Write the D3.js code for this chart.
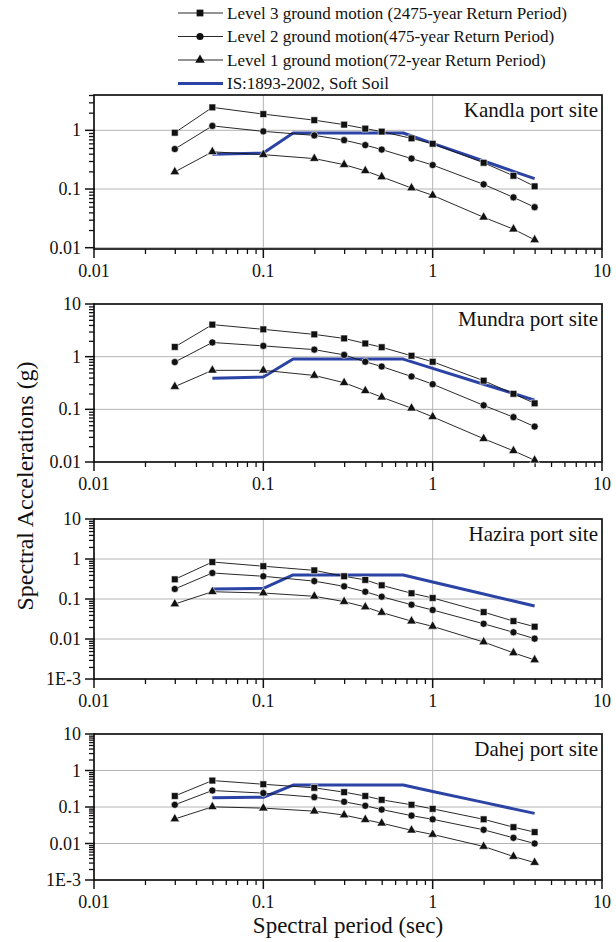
<!DOCTYPE html>
<html>
<head>
<meta charset="utf-8">
<script src="https://cdn.jsdelivr.net/npm/d3@7/dist/d3.min.js"></script>
<style>
  html, body { margin: 0; padding: 0; background: #fff; }
  svg { display: block; }
</style>
</head>
<body>
<svg id="chart" width="616" height="942"></svg>
<script>
// Spectral periods (sec) at which the hazard spectra are computed
const periods = [0.03, 0.05, 0.1, 0.2, 0.3, 0.4, 0.5, 0.75, 1, 2, 3, 4];
// Break points of the IS:1893-2002 soft soil design spectrum
const codePeriods = [0.05, 0.1, 0.15, 0.67, 1, 2, 3, 4];

// Kandla port site
const kandlaLevel3 = [0.91, 2.46, 1.89, 1.49, 1.25, 1.07, 0.95, 0.73, 0.59, 0.28, 0.168, 0.111];
const kandlaLevel2 = [0.48, 1.19, 0.96, 0.82, 0.68, 0.56, 0.47, 0.33, 0.256, 0.12, 0.072, 0.049];
const kandlaLevel1 = [0.196, 0.43, 0.385, 0.33, 0.26, 0.204, 0.161, 0.104, 0.078, 0.033, 0.0207, 0.0136];
const kandlaCode   = [0.39, 0.41, 0.9, 0.9, 0.6, 0.3, 0.2, 0.15];

// Mundra port site
const mundraLevel3 = [1.53, 4.06, 3.3, 2.65, 2.22, 1.78, 1.51, 1.04, 0.8, 0.35, 0.197, 0.13];
const mundraLevel2 = [0.79, 1.86, 1.6, 1.36, 1.08, 0.8, 0.65, 0.42, 0.3, 0.119, 0.071, 0.047];
const mundraLevel1 = [0.27, 0.55, 0.55, 0.44, 0.32, 0.225, 0.17, 0.105, 0.072, 0.0277, 0.0163, 0.0108];
const mundraCode   = [0.39, 0.41, 0.9, 0.9, 0.6, 0.3, 0.2, 0.15];

// Hazira port site
const haziraLevel3 = [0.31, 0.84, 0.66, 0.52, 0.37, 0.3, 0.22, 0.139, 0.106, 0.047, 0.028, 0.0203];
const haziraLevel2 = [0.178, 0.447, 0.37, 0.28, 0.207, 0.152, 0.114, 0.072, 0.053, 0.024, 0.0147, 0.0102];
const haziraLevel1 = [0.075, 0.152, 0.141, 0.117, 0.086, 0.063, 0.046, 0.028, 0.0207, 0.0084, 0.0045, 0.003];
const haziraCode   = [0.178, 0.185, 0.4, 0.4, 0.267, 0.134, 0.089, 0.067];

// Dahej port site
const dahejLevel3 = [0.2, 0.53, 0.42, 0.335, 0.255, 0.2, 0.157, 0.115, 0.089, 0.046, 0.028, 0.0205];
const dahejLevel2 = [0.115, 0.283, 0.24, 0.186, 0.139, 0.108, 0.085, 0.058, 0.046, 0.0237, 0.0143, 0.01];
const dahejLevel1 = [0.047, 0.101, 0.093, 0.077, 0.06, 0.045, 0.036, 0.023, 0.0177, 0.0083, 0.0044, 0.003];
const dahejCode   = [0.178, 0.185, 0.4, 0.4, 0.267, 0.134, 0.089, 0.067];

// Tick values and their printed labels
const xTickValues = [0.01, 0.1, 1, 10];
const xTickLabels = ["0.01", "0.1", "1", "10"];
const yTickValues = [0.001, 0.01, 0.1, 1, 10];
const yTickLabels = ["1E-3", "0.01", "0.1", "1", "10"];

const siteNames = ["Kandla port site", "Mundra port site", "Hazira port site", "Dahej port site"];
const legendLabels = [
  "Level 3 ground motion (2475-year Return Period)",
  "Level 2 ground motion(475-year Return Period)",
  "Level 1 ground motion(72-year Return Period)",
  "IS:1893-2002, Soft Soil"
];

const panels = [
  { name: siteNames[0], l3: kandlaLevel3, l2: kandlaLevel2, l1: kandlaLevel1, code: kandlaCode,
    yMin: 0.0095, yMax: 4, top: 95, bottom: 249 },
  { name: siteNames[1], l3: mundraLevel3, l2: mundraLevel2, l1: mundraLevel1, code: mundraCode,
    yMin: 0.01, yMax: 10, top: 304, bottom: 462 },
  { name: siteNames[2], l3: haziraLevel3, l2: haziraLevel2, l1: haziraLevel1, code: haziraCode,
    yMin: 0.001, yMax: 10, top: 519, bottom: 679 },
  { name: siteNames[3], l3: dahejLevel3, l2: dahejLevel2, l1: dahejLevel1, code: dahejCode,
    yMin: 0.001, yMax: 10, top: 734, bottom: 880 }
];

const FONT = "'Liberation Serif', 'Times New Roman', Times, 'DejaVu Serif', serif";
const LEFT = 94, RIGHT = 602;
const BLUE = "#2c43a6";
const GRID = "#b4b4b4";

const svg = d3.select("#chart").attr("font-family", FONT);
const x = d3.scaleLog().domain([0.01, 10]).range([LEFT, RIGHT]);

const symSquare = d3.symbol().type(d3.symbolSquare).size(46);
const symCircle = d3.symbol().type(d3.symbolCircle).size(40);
const symTriangle = d3.symbol().type(d3.symbolTriangle).size(40);

function label(sel) {
  return sel.append("text").attr("font-family", FONT).attr("fill", "#111");
}

// minor tick positions (2..9 within each decade) inside a log domain
function minorTicks(lo, hi) {
  const out = [];
  for (let e = Math.floor(Math.log10(lo)); e <= Math.ceil(Math.log10(hi)); e++) {
    for (let m = 2; m <= 9; m++) {
      const v = m * Math.pow(10, e);
      if (v >= lo * 0.999 && v <= hi * 1.001) out.push(v);
    }
  }
  return out;
}

panels.forEach(p => {
  const y = d3.scaleLog().domain([p.yMin, p.yMax]).range([p.bottom, p.top]);
  const g = svg.append("g");

  // grid lines at the decades
  g.selectAll(".gx").data([0.1, 1]).enter().append("line")
    .attr("x1", d => x(d)).attr("x2", d => x(d))
    .attr("y1", p.top).attr("y2", p.bottom)
    .attr("stroke", GRID).attr("stroke-width", 1);
  const yMajors = yTickValues.filter(v => v >= p.yMin * 0.999 && v <= p.yMax * 1.001);
  g.selectAll(".gy").data(yMajors.filter(v => Math.abs(y(v) - p.bottom) > 0.5 && Math.abs(y(v) - p.top) > 0.5))
    .enter().append("line")
    .attr("x1", LEFT).attr("x2", RIGHT)
    .attr("y1", d => y(d)).attr("y2", d => y(d))
    .attr("stroke", GRID).attr("stroke-width", 1);

  // y axis: minor ticks outward, decade ticks longer, labels
  const yAxis = d3.axisLeft(y).tickValues(minorTicks(p.yMin, p.yMax)).tickSize(5).tickFormat("");
  g.append("g").attr("transform", `translate(${LEFT},0)`).call(yAxis)
    .call(a => a.select(".domain").remove())
    .call(a => a.selectAll("line").attr("stroke", "#111").attr("stroke-width", 1.3));
  g.selectAll(".ymaj").data(yMajors).enter().append("line")
    .attr("x1", LEFT - 9).attr("x2", LEFT + 1)
    .attr("y1", d => y(d)).attr("y2", d => y(d))
    .attr("stroke", "#111").attr("stroke-width", 1.5);
  yMajors.forEach(v => {
    label(g).attr("x", LEFT - 13).attr("y", y(v)).attr("dy", "0.34em")
      .attr("text-anchor", "end").attr("font-size", 18)
      .text(yTickLabels[yTickValues.indexOf(v)]);
  });

  // x axis: minor ticks outward, decade ticks longer, labels
  const xAxis = d3.axisBottom(x).tickValues(minorTicks(0.01, 10)).tickSize(5).tickFormat("");
  g.append("g").attr("transform", `translate(0,${p.bottom})`).call(xAxis)
    .call(a => a.select(".domain").remove())
    .call(a => a.selectAll("line").attr("stroke", "#111").attr("stroke-width", 1.3));
  g.selectAll(".xmaj").data(xTickValues).enter().append("line")
    .attr("x1", d => x(d)).attr("x2", d => x(d))
    .attr("y1", p.bottom).attr("y2", p.bottom + 9)
    .attr("stroke", "#111").attr("stroke-width", 1.5);
  xTickValues.forEach((v, i) => {
    label(g).attr("x", x(v)).attr("y", p.bottom + 28)
      .attr("text-anchor", "middle").attr("font-size", 18)
      .text(xTickLabels[i]);
  });

  // frame
  g.append("rect").attr("x", LEFT).attr("y", p.top)
    .attr("width", RIGHT - LEFT).attr("height", p.bottom - p.top)
    .attr("fill", "none").attr("stroke", "#111").attr("stroke-width", 1.7);

  // design spectrum
  const codeLine = d3.line().x((d, i) => x(codePeriods[i])).y(d => y(d));
  g.append("path").datum(p.code).attr("d", codeLine)
    .attr("fill", "none").attr("stroke", BLUE).attr("stroke-width", 3)
    .attr("stroke-linejoin", "round");

  // hazard spectra with markers
  const line = d3.line().x((d, i) => x(periods[i])).y(d => y(d));
  [[p.l3, symSquare], [p.l2, symCircle], [p.l1, symTriangle]].forEach(([vals, sym]) => {
    g.append("path").datum(vals).attr("d", line)
      .attr("fill", "none").attr("stroke", "#111").attr("stroke-width", 0.9);
    g.selectAll(null).data(vals).enter().append("path")
      .attr("d", sym)
      .attr("transform", (d, i) => `translate(${x(periods[i])},${y(d)})`)
      .attr("fill", "#111").attr("stroke", "#fff").attr("stroke-width", 0.6);
  });

  // site label
  label(g).attr("x", RIGHT - 4).attr("y", p.top + 22)
    .attr("text-anchor", "end").attr("font-size", 21).text(p.name);
});

// legend
const legendRows = [13, 36.5, 60, 83.5];
const legendSyms = [symSquare, symCircle, symTriangle, null];
legendRows.forEach((ly, i) => {
  const lg = svg.append("g");
  lg.append("line").attr("x1", 178).attr("x2", 223).attr("y1", ly).attr("y2", ly)
    .attr("stroke", i === 3 ? BLUE : "#111").attr("stroke-width", i === 3 ? 3 : 0.9);
  if (legendSyms[i]) {
    lg.append("path").attr("d", legendSyms[i])
      .attr("transform", `translate(200,${ly})`).attr("fill", "#111");
  }
  label(lg).attr("x", 227).attr("y", ly).attr("dy", "0.34em")
    .attr("font-size", 17).text(legendLabels[i]);
});

// axis titles
label(svg).attr("x", (LEFT + RIGHT) / 2).attr("y", 933)
  .attr("text-anchor", "middle").attr("font-size", 23).text("Spectral period (sec)");
label(svg).attr("transform", "translate(33,486) rotate(-90)")
  .attr("text-anchor", "middle").attr("font-size", 24).text("Spectral Accelerations (g)");
</script>
</body>
</html>
